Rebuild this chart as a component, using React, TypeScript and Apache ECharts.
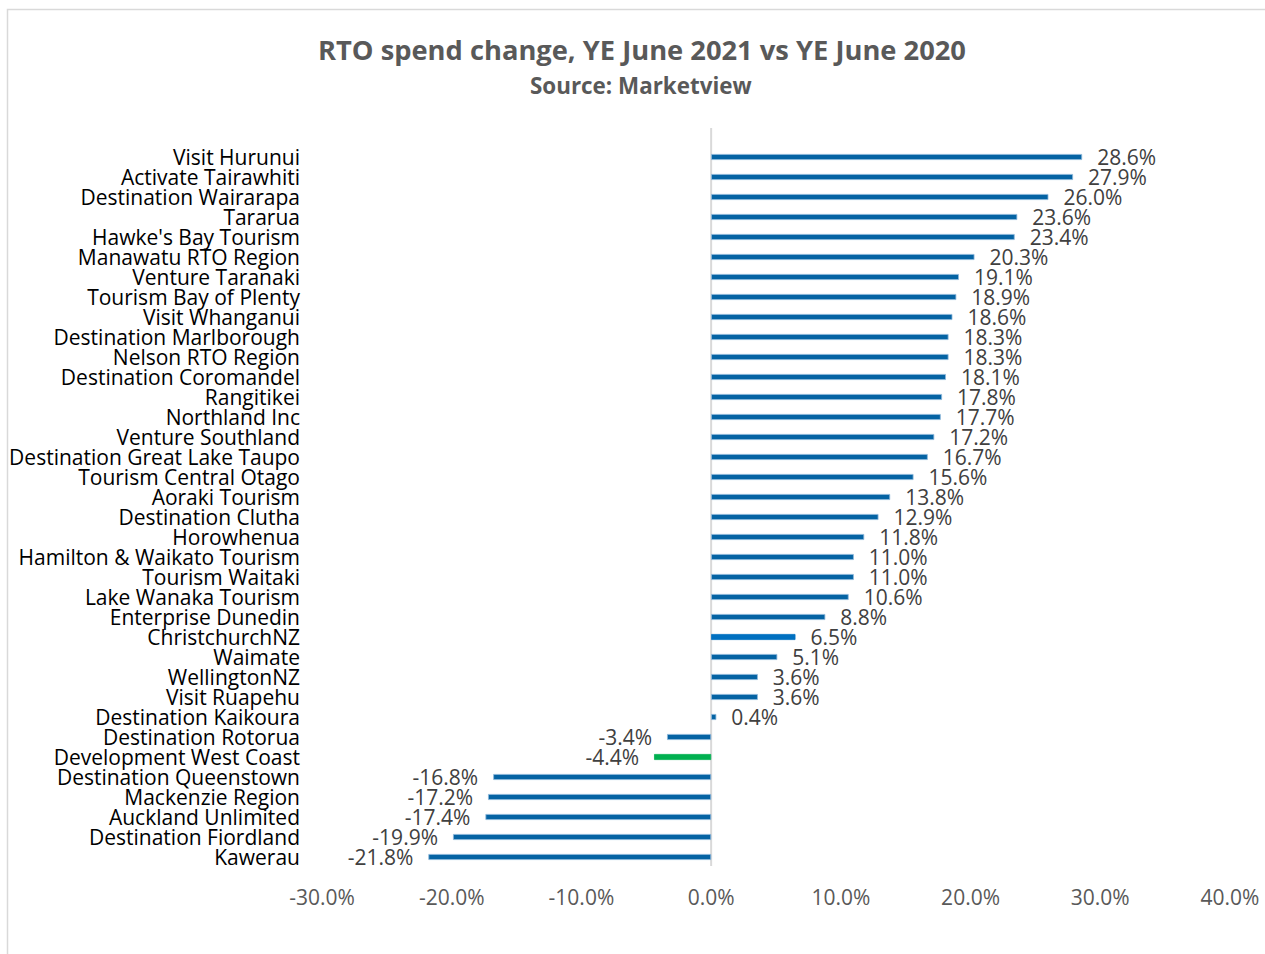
import React, { useEffect, useRef } from "react";
import * as echarts from "echarts";

const categories = [
  "Visit Hurunui", "Activate Tairawhiti", "Destination Wairarapa", "Tararua",
  "Hawke's Bay Tourism", "Manawatu RTO Region", "Venture Taranaki", "Tourism Bay of Plenty",
  "Visit Whanganui", "Destination Marlborough", "Nelson RTO Region", "Destination Coromandel",
  "Rangitikei", "Northland Inc", "Venture Southland", "Destination Great Lake Taupo",
  "Tourism Central Otago", "Aoraki Tourism", "Destination Clutha", "Horowhenua",
  "Hamilton & Waikato Tourism", "Tourism Waitaki", "Lake Wanaka Tourism", "Enterprise Dunedin",
  "ChristchurchNZ", "Waimate", "WellingtonNZ", "Visit Ruapehu",
  "Destination Kaikoura", "Destination Rotorua", "Development West Coast", "Destination Queenstown",
  "Mackenzie Region", "Auckland Unlimited", "Destination Fiordland", "Kawerau",
];

const values = [
  28.6, 27.9, 26.0, 23.6, 23.4, 20.3, 19.1, 18.9, 18.6, 18.3, 18.3, 18.1,
  17.8, 17.7, 17.2, 16.7, 15.6, 13.8, 12.9, 11.8, 11.0, 11.0, 10.6, 8.8,
  6.5, 5.1, 3.6, 3.6, 0.4, -3.4, -4.4, -16.8, -17.2, -17.4, -19.9, -21.8,
];

const highlightColors: Record<string, string> = {
  ChristchurchNZ: "#0070C0",
  "Development West Coast": "#00B050",
};

const title = "RTO spend change, YE June 2021 vs YE June 2020";
const subtitle = "Source: Marketview";

const FONT = "'Open Sans', 'Liberation Sans', sans-serif";

export default function App() {
  const ref = useRef<HTMLDivElement>(null);

  useEffect(() => {
    if (!ref.current) return;
    const chart = echarts.init(ref.current, undefined, { renderer: "svg" });

    const data = values.map((v, i) => {
      const c = highlightColors[categories[i]];
      return {
        value: v,
        itemStyle: c ? { color: c, borderColor: c } : undefined,
        label: { position: v < 0 ? "left" : "right" },
      };
    });

    chart.setOption({
      animation: false,
      backgroundColor: "#ffffff",
      title: [
        {
          text: title,
          left: 318,
          top: 36,
          padding: 0,
          textStyle: { fontFamily: FONT, fontSize: 27.3, fontWeight: "bold", color: "#595959" },
        },
        {
          text: subtitle,
          left: 530,
          top: 74,
          padding: 0,
          textStyle: { fontFamily: FONT, fontSize: 22.4, fontWeight: "bold", color: "#595959" },
        },
      ],
      grid: { left: 322, right: 35, top: 147, bottom: 87, containLabel: false },
      xAxis: {
        type: "value",
        min: -30,
        max: 40,
        interval: 10,
        axisLine: { show: false },
        axisTick: { show: false },
        splitLine: { show: false },
        axisLabel: {
          margin: 19,
          fontFamily: FONT,
          fontSize: 21,
          color: "#595959",
          formatter: (v: number) => v.toFixed(1) + "%",
        },
      },
      yAxis: {
        type: "category",
        data: categories,
        inverse: true,
        axisLine: { show: false },
        axisTick: { show: false },
        axisLabel: {
          interval: 0,
          margin: 22,
          fontFamily: FONT,
          fontSize: 21,
          lineHeight: 19,
          color: "#000000",
        },
      },
      series: [
        {
          type: "bar",
          data,
          barWidth: 6,
          itemStyle: { color: "#0563A3", borderColor: "#8DB8DA", borderWidth: 0.8 },
          label: {
            show: true,
            distance: 15,
            fontFamily: FONT,
            fontSize: 21,
            lineHeight: 19,
            color: "#404040",
            formatter: (p: any) => p.value.toFixed(1) + "%",
          },
        },
      ],
    });

    const x0 = chart.convertToPixel({ xAxisIndex: 0 }, 0) as number;
    chart.setOption({
      graphic: [
        {
          type: "rect",
          shape: { x: 7.5, y: 9.5, width: 1300, height: 1000 },
          style: { fill: "none", stroke: "#d9d9d9", lineWidth: 1.5 },
          silent: true,
          z: -1,
        },
        {
          type: "line",
          shape: { x1: x0, y1: 128, x2: x0, y2: 866 },
          style: { stroke: "#d9d9d9", lineWidth: 2 },
          silent: true,
          z: -1,
        },
      ],
    });

    return () => chart.dispose();
  }, []);

  return (
    <div
      ref={ref}
      style={{ position: "fixed", left: 0, top: 0, width: 1265, height: 954 }}
    />
  );
}
